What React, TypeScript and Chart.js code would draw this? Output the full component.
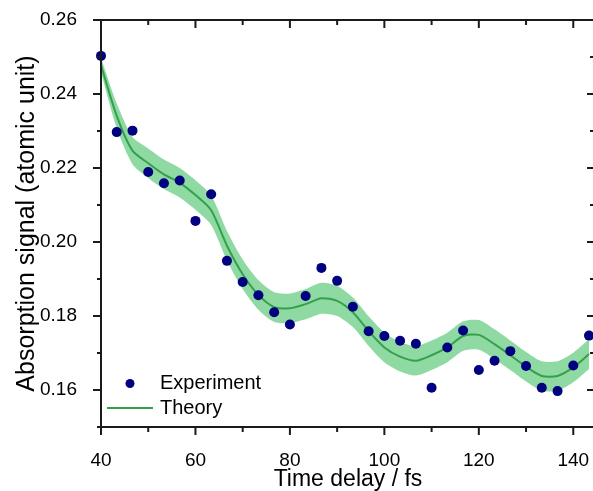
import React, { useEffect, useRef } from "react";
import { Chart, registerables } from "chart.js";

Chart.register(...registerables);

// ---- data ----
const timeDelay = [
  40, 43.33, 46.67, 50, 53.33, 56.67, 60, 63.33, 66.67, 70, 73.33, 76.67, 80, 83.33, 86.67, 90,
  93.33, 96.67, 100, 103.33, 106.67, 110, 113.33, 116.67, 120, 123.33, 126.67, 130, 133.33, 136.67, 140, 143.33,
];
const experiment = [
  0.2503, 0.2297, 0.2301, 0.2189, 0.2159, 0.2166, 0.2057, 0.2129, 0.1949, 0.1892, 0.1856, 0.181, 0.1777, 0.1854, 0.193, 0.1895,
  0.1825, 0.1759, 0.1746, 0.1733, 0.1725, 0.1606, 0.1715, 0.1761, 0.1654, 0.1679, 0.1705, 0.1665, 0.1606, 0.1597, 0.1666, 0.1747,
];
const theory = [
  0.2478, 0.2341, 0.2247, 0.2213, 0.2183, 0.216, 0.2127, 0.2086, 0.199, 0.1913, 0.1857, 0.1824, 0.1821, 0.1832, 0.1848, 0.1841,
  0.181, 0.1759, 0.1715, 0.169, 0.1679, 0.1694, 0.1715, 0.1746, 0.1749, 0.1724, 0.1694, 0.1663, 0.1638, 0.1638, 0.1661, 0.1697,
];
const theoryError = [
  0.002, 0.0033, 0.0037, 0.004, 0.004, 0.004, 0.004, 0.004, 0.004, 0.004, 0.004, 0.004, 0.004, 0.0041, 0.0042, 0.0041,
  0.004, 0.004, 0.004, 0.004, 0.004, 0.004, 0.004, 0.004, 0.004, 0.004, 0.004, 0.004, 0.004, 0.004, 0.004, 0.004,
];
const xMajorTicks = [40, 60, 80, 100, 120, 140];
const xMinorTicks = [50, 70, 90, 110, 130];
const yMajorTicks = [0.16, 0.18, 0.2, 0.22, 0.24, 0.26];
const yMinorTicks = [0.15, 0.17, 0.19, 0.21, 0.23, 0.25];

const FONT = "'Liberation Sans', Arial, sans-serif";
const POINT_COLOR = "#000080";
const LINE_COLOR = "#34a04b";
const BAND_COLOR = "#8fd9a3";
const AXIS_COLOR = "#1a1a1a";
const TENSION = 0.25;

const framePlugin = {
  id: "frameTicks",
  afterDraw(chart: any) {
    const { ctx, chartArea } = chart;
    const { left, right, top, bottom } = chartArea;
    const xs = chart.scales.x;
    const ys = chart.scales.y;
    ctx.save();
    ctx.strokeStyle = AXIS_COLOR;
    ctx.lineWidth = 2;
    ctx.strokeRect(left, top, right - left, bottom - top);
    const tick = (x1: number, y1: number, x2: number, y2: number) => {
      ctx.beginPath();
      ctx.moveTo(x1, y1);
      ctx.lineTo(x2, y2);
      ctx.stroke();
    };
    xMajorTicks.forEach((v) => {
      const p = xs.getPixelForValue(v);
      tick(p, bottom, p, bottom + 8);
      tick(p, top, p, top + 8);
    });
    xMinorTicks.forEach((v) => {
      const p = xs.getPixelForValue(v);
      tick(p, bottom, p, bottom + 5);
      tick(p, top, p, top + 5);
    });
    yMajorTicks.forEach((v) => {
      const p = ys.getPixelForValue(v);
      tick(left, p, left - 8, p);
      tick(right, p, right - 8, p);
    });
    yMinorTicks.forEach((v) => {
      const p = ys.getPixelForValue(v);
      tick(left, p, left - 4, p);
      tick(right, p, right - 5, p);
    });

    // legend
    const ds = chart.data.datasets;
    ctx.font = `20px ${FONT}`;
    ctx.textBaseline = "middle";
    ctx.textAlign = "left";
    const y1 = bottom - 43.5;
    const y2 = bottom - 19;
    ctx.beginPath();
    ctx.fillStyle = POINT_COLOR;
    ctx.arc(left + 29, y1, 4.5, 0, Math.PI * 2);
    ctx.fill();
    ctx.fillStyle = "#000";
    ctx.fillText(ds[0].label, left + 59, y1);
    ctx.strokeStyle = LINE_COLOR;
    ctx.lineWidth = 2;
    tick(left + 6, y2, left + 52, y2);
    ctx.fillText(ds[1].label, left + 59, y2);
    ctx.restore();
  },
};

export default function App() {
  const ref = useRef<HTMLCanvasElement>(null);
  useEffect(() => {
    if (!ref.current) return;
    const pts = (ys: number[]) => timeDelay.map((x, i) => ({ x, y: ys[i] }));
    const upper = theory.map((v, i) => v + theoryError[i]);
    const lower = theory.map((v, i) => v - theoryError[i]);
    const chart = new Chart(ref.current, {
      type: "line",
      data: {
        datasets: [
          {
            label: "Experiment",
            data: pts(experiment),
            showLine: false,
            pointRadius: 5,
            pointBackgroundColor: POINT_COLOR,
            pointBorderColor: POINT_COLOR,
            pointBorderWidth: 0,
            order: 0,
            clip: false as any,
          },
          {
            label: "Theory",
            data: pts(theory),
            borderColor: LINE_COLOR,
            borderWidth: 2,
            pointRadius: 0,
            fill: false,
            tension: TENSION,
            order: 1,
          },
          {
            label: "upper",
            data: pts(upper),
            borderWidth: 0,
            pointRadius: 0,
            backgroundColor: BAND_COLOR,
            fill: "+1",
            tension: TENSION,
            order: 2,
          },
          {
            label: "lower",
            data: pts(lower),
            borderWidth: 0,
            pointRadius: 0,
            fill: false,
            tension: TENSION,
            order: 3,
          },
        ],
      },
      options: {
        animation: false,
        responsive: false,
        devicePixelRatio: 1,
        layout: { padding: { top: 20, right: 4, left: 0, bottom: 0 } },
        plugins: { legend: { display: false }, tooltip: { enabled: false } },
        scales: {
          x: {
            type: "linear",
            position: "bottom",
            min: 40,
            max: 144.6,
            grid: { display: false },
            border: { display: false },
            afterBuildTicks: (s: any) => {
              s.ticks = xMajorTicks.map((value) => ({ value }));
            },
            afterFit: (s: any) => {
              s.height = 64;
              s.paddingLeft = 0;
              s.paddingRight = 0;
            },
            ticks: {
              padding: 14,
              color: "#000",
              font: { family: FONT, size: 19 },
              callback: (v: any) => String(v),
            },
            title: {
              display: true,
              text: "Time delay / fs",
              color: "#000",
              font: { family: FONT, size: 23, lineHeight: 1 },
              padding: { top: 0, bottom: 0 },
            },
          },
          y: {
            type: "linear",
            position: "left",
            min: 0.15,
            max: 0.26,
            grid: { display: false },
            border: { display: false },
            afterBuildTicks: (s: any) => {
              s.ticks = yMajorTicks.map((value) => ({ value }));
            },
            afterFit: (s: any) => {
              s.width = 101;
              s.paddingTop = 0;
              s.paddingBottom = 0;
            },
            ticks: {
              padding: 16,
              color: "#000",
              font: { family: FONT, size: 19 },
              callback: (v: any) => Number(v).toFixed(2),
            },
            title: {
              display: true,
              text: "Absorption signal (atomic unit)",
              color: "#000",
              font: { family: FONT, size: 25, lineHeight: 1 },
              padding: { top: 15, bottom: 0 },
            },
          },
        },
      },
      plugins: [framePlugin],
    });
    return () => chart.destroy();
  }, []);

  return (
    <div
      style={{
        position: "absolute",
        left: 0,
        top: 0,
        width: 593,
        height: 491,
        overflow: "hidden",
        background: "#fff",
      }}
    >
      <canvas ref={ref} width={600} height={491} style={{ display: "block" }} />
    </div>
  );
}
